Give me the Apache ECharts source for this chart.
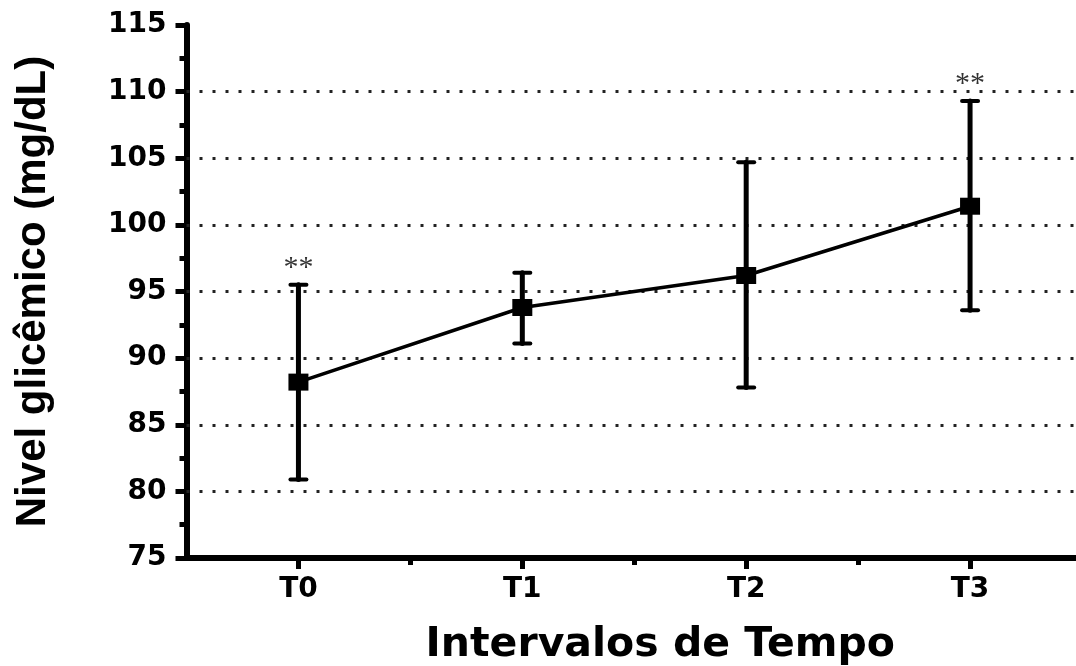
<!DOCTYPE html>
<html><head><meta charset="utf-8">
<script src="https://cdn.jsdelivr.net/npm/echarts@6/dist/echarts.min.js"></script>
<style>html,body{margin:0;padding:0;background:#fff}#c{width:1076px;height:666px}</style>
</head><body><div id="c"></div>
<script>
const categories = ['T0', 'T1', 'T2', 'T3'];
const means = [88.2, 93.8, 96.2, 101.4];
const upper = [95.5, 96.4, 104.7, 109.3];
const lower = [80.9, 91.1, 87.8, 93.6];
const signif = ['**', '', '', '**'];
const gridValues = [80, 85, 90, 95, 100, 105, 110];

const chart = echarts.init(document.getElementById('c'));
const pts = means.map((m, i) => [i, m]);
const errData = categories.map((c, i) => [i, lower[i], upper[i]]);
const FONT = '"DejaVu Sans", "Liberation Sans", Arial, sans-serif';
const FONT2 = '"Liberation Sans", Arial, sans-serif';

chart.setOption({
  animation: false,
  grid: { left: 186.5, right: -6, top: 25, bottom: 108, containLabel: false, outerBoundsMode: 'none' },
  xAxis: [{
    type: 'value', min: -0.5, max: 3.5,
    axisLine: { onZero: false, lineStyle: { color: '#000', width: 6 } },
    axisTick: { show: true, customValues: [0, 1, 2, 3], length: 11, lineStyle: { color: '#000', width: 5 } },
    axisLabel: { customValues: [0, 1, 2, 3], formatter: v => categories[Math.round(v)] || '', color: '#000', fontSize: 28, fontWeight: 'bold', fontFamily: FONT, margin: 18 },
    splitLine: { show: false },
    name: 'Intervalos de Tempo', nameLocation: 'middle', nameGap: 67,
    nameTextStyle: { color: '#000', fontSize: 41, fontWeight: 'bold', fontFamily: FONT, padding: [0, 0, 0, 52] }
  }, {
    type: 'value', min: -0.5, max: 3.5, position: 'bottom',
    axisLine: { show: false, onZero: false },
    axisTick: { show: true, customValues: [0.5, 1.5, 2.5], length: 7, lineStyle: { color: '#000', width: 5 } },
    axisLabel: { show: false }, splitLine: { show: false }
  }],
  yAxis: {
    type: 'value', min: 75, max: 115, interval: 5,
    axisLine: { show: true, onZero: false, lineStyle: { color: '#000', width: 6 } },
    axisTick: { show: true, length: 11, lineStyle: { color: '#000', width: 5 } },
    minorTick: { show: true, splitNumber: 2, length: 7, lineStyle: { color: '#000', width: 5 } },
    axisLabel: { color: '#000', fontSize: 28, fontWeight: 'bold', fontFamily: FONT, margin: 20 },
    splitLine: { show: false },
    name: 'Nivel glicêmico (mg/dL)', nameLocation: 'middle', nameGap: 132, nameRotate: 90,
    nameTextStyle: { color: '#000', fontSize: 42, fontWeight: 'bold', fontFamily: FONT2 }
  },
  series: [{
    type: 'line', data: [], silent: true,
    markLine: {
      silent: true, symbol: 'none', label: { show: false },
      lineStyle: { color: '#222', type: [3, 10], width: 3 },
      data: gridValues.map(v => ({ yAxis: v }))
    }
  }, {
    type: 'custom', data: errData, z: 5,
    renderItem: (params, api) => {
      const x = api.value(0);
      const lo = api.coord([x, api.value(1)]);
      const hi = api.coord([x, api.value(2)]);
      const st = { stroke: '#000', lineWidth: 5, lineCap: 'round' };
      const cs = { stroke: '#000', lineWidth: 4, lineCap: 'round' };
      const hw = 8;
      return { type: 'group', children: [
        { type: 'line', shape: { x1: lo[0], y1: lo[1], x2: hi[0], y2: hi[1] }, style: st },
        { type: 'line', shape: { x1: lo[0] - hw, y1: lo[1], x2: lo[0] + hw, y2: lo[1] }, style: cs },
        { type: 'line', shape: { x1: hi[0] - hw, y1: hi[1], x2: hi[0] + hw, y2: hi[1] }, style: cs }
      ]};
    }
  }, {
    type: 'line', data: pts, z: 6,
    symbol: 'rect', symbolSize: [20, 17],
    lineStyle: { color: '#000', width: 3.5 },
    itemStyle: { color: '#000' }
  }, {
    type: 'scatter', data: upper.map((u, i) => [i, u]), symbolSize: 0, z: 7,
    label: { show: true, position: 'top', distance: 2, formatter: p => signif[p.dataIndex],
      color: '#000', fontSize: 30, fontFamily: '"Liberation Serif", "Times New Roman", serif' }
  }]
});
</script></body></html>
